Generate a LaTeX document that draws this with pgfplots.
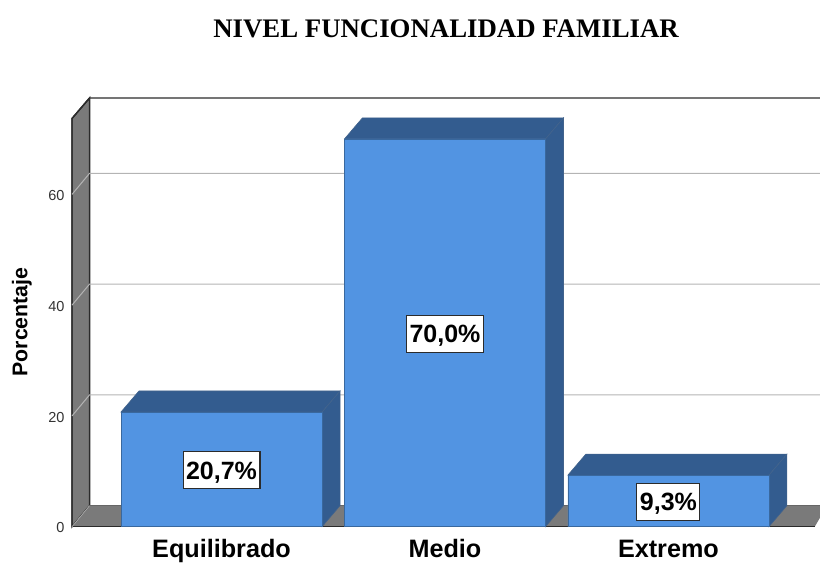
\documentclass[border=0pt]{standalone}
\usepackage{pgfplots}
\pgfplotsset{compat=1.18}
\usepackage{fontspec}
\setmainfont{Liberation Sans}
\newfontfamily\titlefont{Liberation Serif}
\definecolor{barfront}{HTML}{5294E2}
\definecolor{bardark}{HTML}{335C8F}
\definecolor{wallgray}{HTML}{7A7A7A}
\definecolor{gridgray}{HTML}{B4B4B4}
\definecolor{axisdark}{HTML}{2B2B2B}
\begin{document}
\begin{tikzpicture}
\begin{axis}[
  scale only axis, width=820pt, height=562pt,
  xmin=-0.991, xmax=2.678, ymin=-6.37, ymax=95.07,
  axis line style={draw=none},
  major tick length=0pt,
  xtick={0,1,2}, xticklabels={Equilibrado,Medio,Extremo},
  ytick={0,20,40,60},
  /pgf/number format/assume math mode=true,
  xticklabel style={font=\fontsize{25.2}{27}\selectfont\bfseries, anchor=center, text height=18pt, text depth=0pt, yshift=13pt},
  yticklabel style={font=\fontsize{14.5}{16}\selectfont, text=black!80, anchor=east, xshift=68pt, yshift=-1.2pt},
  ylabel={Porcentaje},
  every axis y label/.style={at={(axis description cs:0.0265,0.427)},rotate=90,anchor=center,font=\fontsize{21.3}{23}\selectfont\bfseries},
  title={\titlefont\bfseries NIVEL FUNCIONALIDAD FAMILIAR},
  every axis title/.style={at={(axis description cs:0.544,0.949)},anchor=center,font=\fontsize{26.8}{28}\selectfont},
  clip=true,
]
% walls and floor
\addplot[fill=wallgray,draw=axisdark,line width=1.4pt,mark=none] coordinates {(-0.669,0)(-0.5906,3.8)(-0.5906,77.4)(-0.669,73.7)} --cycle;
\addplot[fill=wallgray,draw=none,mark=none] coordinates {(-0.669,0)(-0.5906,3.8)(2.71,3.8)(2.655,0)} --cycle;
\addplot[draw=axisdark,line width=1.4pt,mark=none] coordinates {(-0.669,0)(-0.669,73.7)(-0.5906,77.4)(2.678,77.4)};
\addplot[draw=axisdark,line width=1.2pt,mark=none] coordinates {(-0.669,0)(2.655,0)};
\addplot[draw=black!60,line width=0.6pt,mark=none] coordinates {(-0.5906,3.8)(2.678,3.8)};
% grid lines
\addplot[draw=gridgray,line width=1pt,mark=none] coordinates {(-0.669,20)(-0.5906,23.8)(2.678,23.8)};
\addplot[draw=gridgray,line width=1pt,mark=none] coordinates {(-0.669,40)(-0.5906,43.8)(2.678,43.8)};
\addplot[draw=gridgray,line width=1pt,mark=none] coordinates {(-0.669,60)(-0.5906,63.8)(2.678,63.8)};
\addplot[draw=gridgray,line width=0.6pt,mark=none] coordinates {(-0.669,0)(-0.5906,3.8)};
% bar tops and sides
\addplot[fill=bardark,draw=bardark!80!gray,line width=0.6pt,mark=none] coordinates {(-0.45,20.7)(-0.3695,24.5)(0.5305,24.5)(0.45,20.7)} --cycle;
\addplot[fill=bardark,draw=bardark!80!gray,line width=0.6pt,mark=none] coordinates {(0.45,0)(0.5305,3.8)(0.5305,24.5)(0.45,20.7)} --cycle;
\addplot[fill=bardark,draw=bardark!80!gray,line width=0.6pt,mark=none] coordinates {(0.55,70)(0.6305,73.8)(1.5305,73.8)(1.45,70)} --cycle;
\addplot[fill=bardark,draw=bardark!80!gray,line width=0.6pt,mark=none] coordinates {(1.45,0)(1.5305,3.8)(1.5305,73.8)(1.45,70)} --cycle;
\addplot[fill=bardark,draw=bardark!80!gray,line width=0.6pt,mark=none] coordinates {(1.55,9.3)(1.6305,13.1)(2.5305,13.1)(2.45,9.3)} --cycle;
\addplot[fill=bardark,draw=bardark!80!gray,line width=0.6pt,mark=none] coordinates {(2.45,0)(2.5305,3.8)(2.5305,13.1)(2.45,9.3)} --cycle;
% bar fronts
\addplot[ybar,bar width=201pt,bar shift=0pt,fill=barfront,draw=barfront!70!black,line width=0.6pt] coordinates {(0,20.7)(1,70)(2,9.3)};
% value labels
\addplot[only marks,mark=none,point meta=explicit symbolic,nodes near coords,
  nodes near coords style={anchor=center,fill=white,draw=axisdark,line width=1.1pt,font=\fontsize{25}{27}\selectfont\bfseries,text=black,text height=17.5pt,text depth=0pt,minimum height=37pt,inner xsep=3pt,inner ysep=0pt,yshift=-1pt}]
  table[x=x,y=y,meta=label] {
x y label
0 10.35 {20,7\%}
1 35 {70,0\%}
2 4.65 {9,3\%}
};
\end{axis}
\end{tikzpicture}
\end{document}
